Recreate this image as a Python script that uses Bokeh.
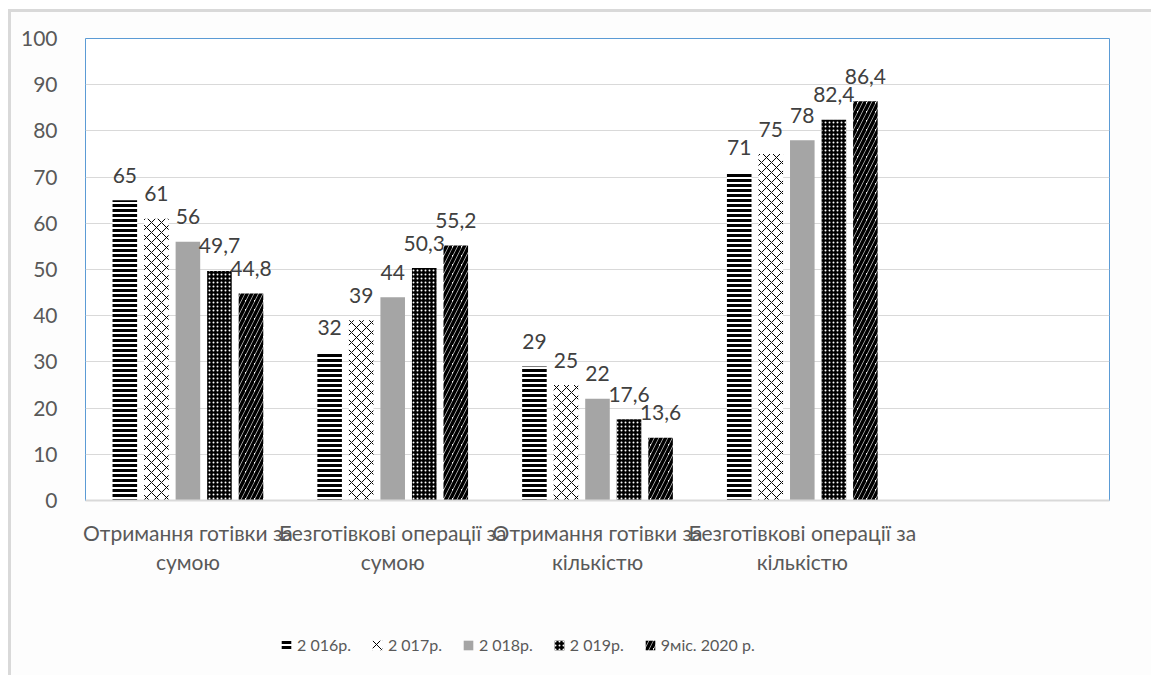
from bokeh.plotting import figure
from bokeh.layouts import column
from bokeh.models import FixedTicker, Legend, LegendItem, ColumnDataSource, LinearAxis
from bokeh.transform import dodge
from bokeh.core.properties import value
from bokeh.embed import file_html
from bokeh.resources import INLINE

# Categories, drawn on two lines under the axis (a fifth slot stays empty)
categories = [
    "Отримання готівки за сумою",
    "Безготівкові операції за сумою",
    "Отримання готівки за кількістю",
    "Безготівкові операції за кількістю",
]
label_line1 = [
    "Отримання готівки за",
    "Безготівкові операції за",
    "Отримання готівки за",
    "Безготівкові операції за",
]
label_line2 = ["сумою", "сумою", "кількістю", "кількістю"]
n_slots = 5

series_names = ["2 016р.", "2 017р.", "2 018р.", "2 019р.", "9міс. 2020 р."]

values_2016 = [65, 32, 29, 71]
values_2017 = [61, 39, 25, 75]
values_2018 = [56, 44, 22, 78]
values_2019 = [49.7, 50.3, 17.6, 82.4]
values_2020 = [44.8, 55.2, 13.6, 86.4]

y_ticks = [0, 10, 20, 30, 40, 50, 60, 70, 80, 90, 100]

all_values = [values_2016, values_2017, values_2018, values_2019, values_2020]

# slot centres on a numeric axis
centres = [i + 0.5 for i in range(len(categories))]

# fill / hatch styling for each series
styles = [
    dict(fill_color="white", hatch_pattern="horizontal_line", hatch_color="black",
         hatch_scale=5, hatch_weight=3),
    dict(fill_color="white", hatch_pattern="diagonal_cross", hatch_color="black",
         hatch_scale=10, hatch_weight=1),
    dict(fill_color="#a5a5a5"),
    dict(fill_color="black", hatch_pattern="dot", hatch_color="white",
         hatch_scale=4, hatch_weight=1.5),
    dict(fill_color="white", hatch_pattern="right_diagonal_line", hatch_color="black",
         hatch_scale=9, hatch_weight=3.5),
]

offsets = [-0.308, -0.154, 0.0, 0.154, 0.308]
bar_width = 0.12
BG = "#fdfdfd"

p = figure(
    x_range=(0, n_slots), y_range=(0, 100),
    frame_width=1024, frame_height=462,
    output_backend="svg", toolbar_location=None,
    min_border_left=74, min_border_right=42, min_border_top=26, min_border_bottom=90,
)
p.background_fill_color = "white"
p.border_fill_color = BG
p.outline_line_color = "#5b9bd5"
p.outline_line_width = 1

# a strip below the chart that holds only the legend
leg_fig = figure(
    width=1140, height=85, x_range=(0, 1), y_range=(0, 1),
    x_axis_type=None, y_axis_type=None,
    output_backend="svg", toolbar_location=None, min_border=0,
)
leg_fig.grid.visible = False
leg_fig.outline_line_color = None
leg_fig.background_fill_color = BG
leg_fig.border_fill_color = BG

legend_items = []
for name, vals, st, off in zip(series_names, all_values, styles, offsets):
    src = ColumnDataSource(dict(
        x=centres,
        val=vals,
        lbl=[("%g" % v).replace(".", ",") for v in vals],
    ))
    p.vbar(x=dodge("x", off), top="val", width=bar_width,
           source=src, line_color=None, **st)
    p.text(x=dodge("x", off), y="val", text="lbl", source=src,
           text_align="center", text_baseline="alphabetic", y_offset=-25,
           text_font=value("Lato"), text_font_size="21px", text_color="#404040")
    swatch = leg_fig.vbar(x=dodge("x", off), top="val", width=bar_width,
                          source=src, line_color=None, visible=False, **st)
    legend_items.append(LegendItem(label=name, renderers=[swatch]))

# y axis
p.yaxis.ticker = FixedTicker(ticks=y_ticks)
p.yaxis.axis_line_color = None
p.yaxis.major_tick_line_color = None
p.yaxis.minor_tick_line_color = None
p.yaxis.major_label_standoff = 22
p.yaxis.major_label_text_font = "Lato"
p.yaxis.major_label_text_font_size = "21px"
p.yaxis.major_label_text_color = "#595959"

# x axis: two stacked axes carry the two lines of each category name
def style_xaxis(ax, standoff):
    ax.ticker = FixedTicker(ticks=centres)
    ax.major_tick_line_color = None
    ax.minor_tick_line_color = None
    ax.major_label_standoff = standoff
    ax.major_label_text_font = "Lato"
    ax.major_label_text_font_size = "21px"
    ax.major_label_text_color = "#595959"

xa = p.xaxis[0]
style_xaxis(xa, 13)
xa.axis_line_color = "#d9d9d9"
xa.axis_line_width = 2
xa.major_label_overrides = dict(zip(centres, label_line1))

xa2 = LinearAxis(axis_line_color=None)
style_xaxis(xa2, -5)
xa2.major_label_overrides = dict(zip(centres, label_line2))
p.add_layout(xa2, "below")

p.xgrid.grid_line_color = None
p.ygrid.grid_line_color = "#d9d9d9"
p.ygrid.grid_line_width = 1

legend = Legend(items=legend_items, orientation="horizontal", location=(195, 21),
                border_line_color=None, background_fill_alpha=0,
                label_text_font="Lato", label_text_font_size="16px",
                label_text_color="#595959", glyph_width=12, glyph_height=12,
                label_standoff=5, spacing=20, margin=0, padding=0)
leg_fig.add_layout(legend, "center")

page = column(p, leg_fig, spacing=0)
page.styles = {
    "margin-left": "8px", "margin-top": "9px",
    "border-left": "3px solid #d9d9d9", "border-top": "3px solid #d9d9d9",
    "background-color": BG,
}

open("out.html", "w").write(file_html(page, INLINE))
